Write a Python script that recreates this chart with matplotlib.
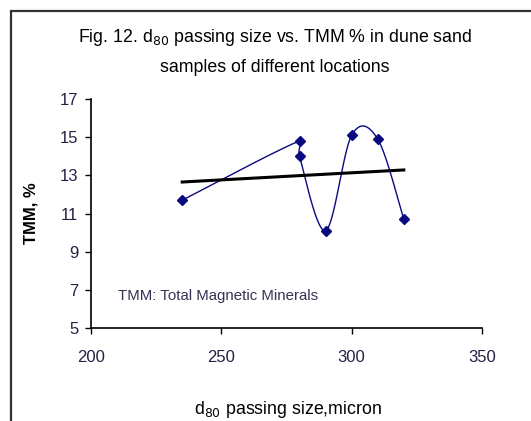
import numpy as np
import matplotlib.pyplot as plt
from matplotlib.patches import Rectangle

# data
d80 = [235, 280, 280, 290, 300, 310, 320]
tmm = [11.7, 14.8, 14.0, 10.1, 15.1, 14.9, 10.7]
xticks = [200, 250, 300, 350]
yticks = [5, 7, 9, 11, 13, 15, 17]

navy = '#0a0a80'


def smooth(x, y, n=40):
    # excel-style smoothed line: cubic bezier with catmull-rom controls,
    # worked out in pixel-like units so both axes weigh the same
    sx = (np.asarray(x, float) - 200) / 150 * 391
    sy = (np.asarray(y, float) - 5) / 12 * 229
    p = np.column_stack([sx, sy])
    L = lambda a, b: np.hypot(*(a - b))
    out = []
    for i in range(len(p) - 1):
        seg_len = L(p[i + 1], p[i])
        if i > 0:
            f1 = min(1, 4 * seg_len / L(p[i], p[i - 1]))
            c1 = p[i] + (p[i + 1] - p[i - 1]) / 6 * f1
        else:
            c1 = p[i] + (p[i + 1] - p[i]) / 6
        if i + 2 < len(p):
            f2 = min(1, 4 * seg_len / L(p[i + 2], p[i + 1]))
            c2 = p[i + 1] - (p[i + 2] - p[i]) / 6 * f2
        else:
            c2 = p[i + 1] - (p[i + 1] - p[i]) / 6
        t = np.linspace(0, 1, n)[:, None]
        seg = ((1 - t) ** 3 * p[i] + 3 * (1 - t) ** 2 * t * c1
               + 3 * (1 - t) * t ** 2 * c2 + t ** 3 * p[i + 1])
        out.append(seg)
    s = np.vstack(out)
    return s[:, 0] / 391 * 150 + 200, s[:, 1] / 229 * 12 + 5


fig = plt.figure(figsize=(5.31, 4.21), dpi=100)
plt.rcParams['font.family'] = ['Liberation Sans', 'DejaVu Sans']

# outer frame of the chart area
fig.patches.append(Rectangle((11 / 531, -0.05), 1.1, 1 - 11 / 421 + 0.05,
                             transform=fig.transFigure, fill=False,
                             edgecolor='#333333', linewidth=1.6))

ax = fig.add_axes([91 / 531, 1 - 328 / 421, 391 / 531, 229 / 421])

sx, sy = smooth(d80, tmm)
ax.plot(sx, sy, color=navy, linewidth=1.0)
ax.plot(d80, tmm, linestyle='none', marker='D', markersize=5.5, color=navy)

# linear trend line
k, b = np.polyfit(d80, tmm, 1)
tx = np.array([min(d80), max(d80)])
ax.plot(tx, k * tx + b, color='black', linewidth=2.2)

ax.set_xlim(200, 350)
ax.set_ylim(5, 17)
ax.set_xticks(xticks)
ax.set_yticks(yticks)
ax.tick_params(direction='out', length=4, width=1, labelsize=12,
               colors='black', labelcolor='#222244')
ax.tick_params(axis='x', pad=12)
ax.tick_params(axis='y', pad=5)
ax.spines['top'].set_visible(False)
ax.spines['right'].set_visible(False)
for s in ['left', 'bottom']:
    ax.spines[s].set_linewidth(1.2)

ax.text(210.5, 6.7, 'TMM: Total Magnetic Minerals', fontsize=10.8,
        color='#333355', va='center')

fig.text(275 / 531, 1 - 38 / 421,
         'Fig. 12. d$_{80}$ passing size vs. TMM % in dune sand',
         ha='center', va='center', fontsize=12.8)
fig.text(275 / 531, 1 - 67 / 421, 'samples of different locations',
         ha='center', va='center', fontsize=12.8)
fig.text(31 / 531, 1 - 213 / 421, 'TMM, %', rotation=90, ha='center',
         va='center', fontsize=12, fontweight='bold')
fig.text(288 / 531, 1 - 410 / 421, 'd$_{80}$ passing size,micron',
         ha='center', va='center', fontsize=12.8)

fig.savefig('out.png', dpi=100)
